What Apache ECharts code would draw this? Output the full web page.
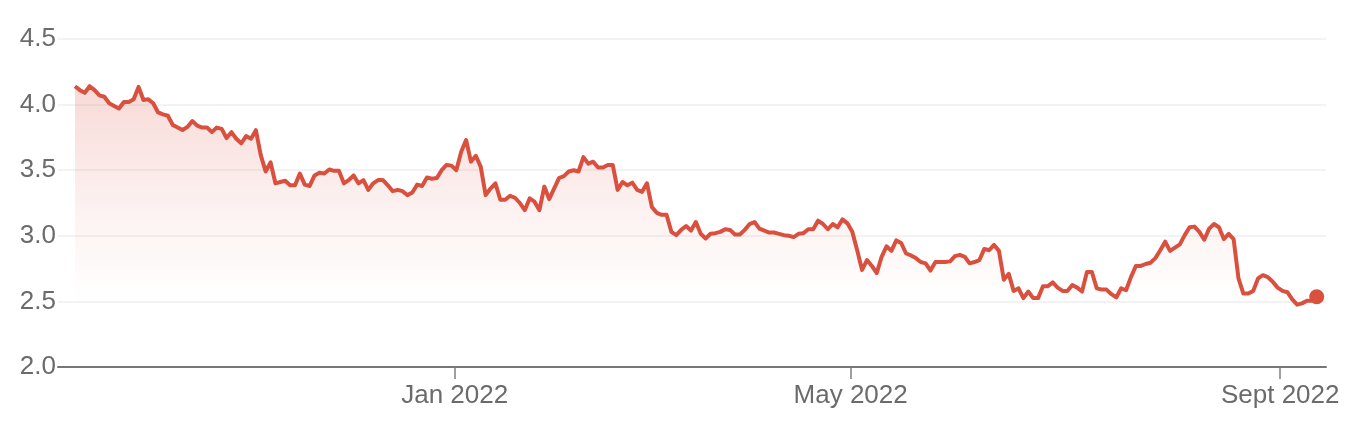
<!DOCTYPE html>
<html>
<head>
<meta charset="utf-8">
<script src="https://cdn.jsdelivr.net/npm/echarts@6/dist/echarts.min.js"></script>
<style>
html,body{margin:0;padding:0;background:#fff;}
#chart{width:1368px;height:442px;}
</style>
</head>
<body>
<div id="chart"></div>
<script>
// Daily values (trading-day index order)
const values = [
  4.14,4.11,4.09,4.14,4.11,4.07,4.06,4.01,3.99,3.97,4.02,4.02,4.04,4.135,4.035,4.04,4.01,3.94,3.925,3.915,3.845,3.825,3.806,3.83,3.875,3.84,3.825,3.825,3.79,3.825,3.815,3.745,3.79,3.74,3.705,3.76,3.74,3.805,3.615,3.49,3.56,3.40,
  3.41,3.42,3.385,3.385,3.475,3.39,3.38,3.46,3.48,3.475,3.505,3.495,3.495,3.40,3.425,3.46,3.40,3.425,3.35,3.40,3.425,3.425,3.385,3.34,3.35,3.34,3.31,3.33,3.39,3.38,3.445,3.435,3.44,3.50,3.54,3.535,3.50,3.64,3.73,3.565,3.61,3.525,
  3.31,3.36,3.40,3.275,3.275,3.305,3.29,3.25,3.195,3.285,3.26,3.195,3.375,3.28,3.36,3.44,3.455,3.49,3.50,3.49,3.60,3.55,3.565,3.52,3.52,3.54,3.54,3.35,3.41,3.385,3.405,3.35,3.335,3.40,3.22,3.175,3.16,3.16,3.03,3.005,3.045,3.075,
  3.04,3.105,3.015,2.98,3.015,3.02,3.03,3.05,3.045,3.01,3.01,3.045,3.09,3.105,3.055,3.04,3.025,3.025,3.015,3.005,3.00,2.99,3.015,3.02,3.05,3.05,3.115,3.09,3.05,3.09,3.065,3.125,3.095,3.03,2.89,2.74,2.815,2.77,2.715,2.84,2.92,2.885,
  2.965,2.945,2.865,2.85,2.83,2.80,2.79,2.735,2.80,2.80,2.80,2.805,2.845,2.855,2.84,2.79,2.80,2.815,2.90,2.89,2.93,2.885,2.665,2.71,2.58,2.60,2.525,2.575,2.525,2.525,2.615,2.615,2.645,2.605,2.58,2.58,2.625,2.605,2.575,2.725,2.725,2.60,2.59,
  2.59,2.555,2.53,2.60,2.585,2.685,2.77,2.77,2.785,2.795,2.83,2.89,2.955,2.885,2.91,2.935,3.005,3.065,3.07,3.03,2.97,3.055,3.09,3.065,2.975,3.015,2.975,2.675,2.56,2.56,2.58,2.675,2.70,2.685,2.65,2.605,2.58,2.57,2.515,2.475,2.485,2.505,2.505,2.535
];
// Month tick labels and where they fall in the trading-day index
const tickLabels = ['Jan 2022', 'May 2022', 'Sept 2022'];
const tickIndex = [77.67, 158.66, 246.53];
// Y-axis ticks
const yTicks = [2.0, 2.5, 3.0, 3.5, 4.0, 4.5];

const RED = '#d9503f';
const GREY = '#6b6b6b';
const FONT = '"Liberation Sans", Arial, Helvetica, sans-serif';

const lineData = values.map((v, i) => [i, v]);
const lastData = [[values.length - 1, values[values.length - 1]]];

const chart = echarts.init(document.getElementById('chart'), null, {renderer: 'canvas'});
chart.setOption({
  animation: false,
  backgroundColor: '#ffffff',
  grid: {left: 58, right: 42, top: 39, bottom: 75, containLabel: false},
  xAxis: {
    type: 'value',
    min: -3.477,
    max: values.length - 1 + 1.9,
    splitLine: {show: false},
    axisLine: {show: true, lineStyle: {color: '#777777', width: 2}},
    axisTick: {show: true, customValues: tickIndex, length: 12, lineStyle: {color: '#808080', width: 1.5}},
    axisLabel: {
      show: true,
      customValues: tickIndex,
      formatter: function (v) {
        let best = 0, d = Infinity;
        tickIndex.forEach((t, k) => { if (Math.abs(t - v) < d) { d = Math.abs(t - v); best = k; } });
        return tickLabels[best];
      },
      color: GREY, fontSize: 26, fontFamily: FONT, margin: 16
    }
  },
  yAxis: {
    type: 'value',
    min: yTicks[0],
    max: yTicks[yTicks.length - 1],
    interval: 0.5,
    axisLine: {show: false},
    axisTick: {show: false},
    splitLine: {show: true, lineStyle: {color: '#f3f3f3', width: 2}},
    axisLabel: {
      formatter: v => v.toFixed(1),
      color: GREY, fontSize: 26, fontFamily: FONT, margin: 2
    }
  },
  series: [
    {
      type: 'line',
      data: lineData,
      showSymbol: false,
      symbol: 'none',
      lineStyle: {color: RED, width: 4, join: 'round'},
      areaStyle: {
        color: new echarts.graphic.LinearGradient(0, 0, 0, 1, [
          {offset: 0, color: 'rgba(217,80,63,0.30)'},
          {offset: 0.45, color: 'rgba(217,80,63,0.10)'},
          {offset: 0.78, color: 'rgba(217,80,63,0.0)'},
          {offset: 1, color: 'rgba(217,80,63,0.0)'}
        ])
      },
      z: 2
    },
    {
      type: 'scatter',
      data: lastData,
      symbol: 'circle',
      symbolSize: 15,
      itemStyle: {color: RED, opacity: 1},
      z: 3
    }
  ]
});
</script>
</body>
</html>
